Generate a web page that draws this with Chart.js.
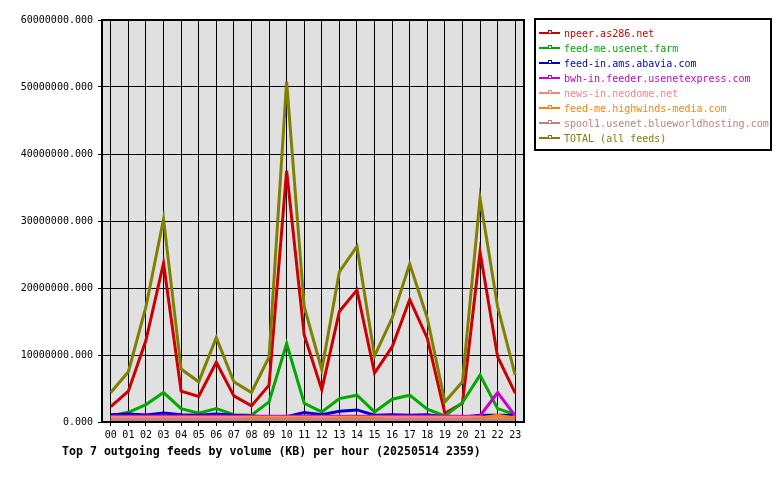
<!DOCTYPE html>
<html>
<head>
<meta charset="utf-8">
<script src="https://cdn.jsdelivr.net/npm/chart.js@4/dist/chart.umd.min.js"></script>
<style>
  html, body { margin: 0; padding: 0; background: #ffffff; }
  #wrap { position: relative; width: 780px; height: 480px; overflow: hidden; }
  #c { position: absolute; left: 0; top: 0; }
  #caption { position: absolute; left: 62px; top: 445px; font: bold 11.6px "DejaVu Sans Mono", monospace; color: #000; white-space: pre; line-height: 13px; }
  #legend { position: absolute; left: 534px; top: 18px; width: 234px; height: 129px; border: 2px solid #000; box-sizing: content-box; }
  .row { position: absolute; left: 0; height: 15px; font: 10px "DejaVu Sans Mono", monospace; white-space: pre; line-height: 15px; }
  .ln { position: absolute; left: 3px; top: 6px; width: 21px; height: 0; border-top: 2px solid; }
  .mk { position: absolute; left: 12px; top: 4px; width: 2px; height: 2px; border: 1px solid; background: #fff; }
  .tx { position: absolute; left: 28px; top: 0; }
</style>
</head>
<body>
<div id="wrap">
  <canvas id="c" width="780" height="480"></canvas>
  <div id="legend"></div>
  <div id="caption"></div>
</div>
<script>
// ---- data (KB per hour) ----
const hours = ['00','01','02','03','04','05','06','07','08','09','10','11','12','13','14','15','16','17','18','19','20','21','22','23'];
const feedNames = ['npeer.as286.net','feed-me.usenet.farm','feed-in.ams.abavia.com','bwh-in.feeder.usenetexpress.com','news-in.neodome.net','feed-me.highwinds-media.com','spool1.usenet.blueworldhosting.com','TOTAL (all feeds)'];
const feedColors = ['#cc0000','#00aa00','#0000cc','#cc00cc','#ff8080','#ff8000','#c08080','#808000'];

const npeer     = [2300000,4600000,12200000,23700000,4600000,3800000,8900000,3900000,2400000,5500000,37500000,13000000,4800000,16500000,19700000,7300000,11200000,18300000,12500000,1300000,2800000,25400000,9750000,4300000];
const usenetFarm= [900000,1450000,2600000,4400000,2000000,1300000,2000000,1100000,1000000,3000000,11700000,2800000,1500000,3500000,4000000,1500000,3400000,4000000,1900000,900000,2900000,7000000,2000000,1100000];
const abavia    = [1100000,1200000,1050000,1350000,1100000,1000000,1200000,1000000,900000,700000,800000,1400000,1100000,1600000,1800000,1000000,1100000,1000000,1100000,800000,700000,1000000,1000000,1000000];
const bwh       = [850000,850000,850000,850000,850000,850000,850000,850000,850000,850000,850000,850000,850000,850000,850000,850000,850000,850000,850000,850000,850000,900000,4400000,900000];
const neodome   = [700000,700000,700000,700000,700000,700000,700000,700000,700000,700000,700000,700000,700000,700000,700000,700000,700000,700000,700000,700000,700000,700000,700000,700000];
const highwinds = [300000,250000,250000,250000,250000,250000,250000,250000,550000,550000,500000,550000,300000,550000,550000,550000,300000,250000,250000,250000,300000,550000,1000000,550000];
const spool1    = [350000,350000,350000,350000,350000,350000,350000,350000,350000,350000,350000,350000,350000,350000,350000,350000,350000,350000,350000,350000,350000,350000,350000,350000];
const total     = [4400000,7500000,17200000,30300000,7900000,6000000,12600000,6000000,4400000,9700000,50800000,17200000,7800000,22400000,26200000,9850000,15500000,23600000,15500000,3000000,6000000,33400000,17200000,7000000];

const yTicks = [0,10000000,20000000,30000000,40000000,50000000,60000000];
const captionText = 'Top 7 outgoing feeds by volume (KB) per hour (20250514 2359)';

const series = [npeer, usenetFarm, abavia, bwh, neodome, highwinds, spool1, total];

// ---- legend (HTML) ----
const legend = document.getElementById('legend');
feedNames.forEach((name, i) => {
  const row = document.createElement('div');
  row.className = 'row';
  row.style.top = (6 + i * 15) + 'px';
  row.style.color = feedColors[i];
  row.innerHTML = '<div class="ln" style="border-color:' + feedColors[i] + '"></div>' +
                  '<div class="mk" style="border-color:' + feedColors[i] + '"></div>' +
                  '<div class="tx"></div>';
  row.querySelector('.tx').textContent = name;
  legend.appendChild(row);
});
document.getElementById('caption').textContent = captionText;

// ---- chart ----
const areaPlugin = {
  id: 'areaPlugin',
  beforeDraw(chart) {
    const a = chart.chartArea, ctx = chart.ctx;
    ctx.save();
    ctx.fillStyle = '#e0e0e0';
    ctx.fillRect(a.left, a.top, a.right - a.left, a.bottom - a.top);
    ctx.restore();
  },
  afterDraw(chart) {
    const a = chart.chartArea, ctx = chart.ctx;
    ctx.save();
    ctx.strokeStyle = '#000';
    ctx.lineWidth = 2;
    ctx.strokeRect(a.left, a.top, a.right - a.left, a.bottom - a.top);
    ctx.restore();
  }
};

const tickFont = { family: '"DejaVu Sans Mono", monospace', size: 10 };

new Chart(document.getElementById('c'), {
  type: 'line',
  data: {
    labels: hours,
    datasets: series.map((d, i) => ({
      label: feedNames[i],
      data: d,
      borderColor: feedColors[i],
      backgroundColor: feedColors[i],
      borderWidth: 3,
      pointRadius: 0,
      tension: 0,
      fill: false,
      order: series.length - i
    }))
  },
  options: {
    responsive: false,
    animation: false,
    events: [],
    layout: { padding: { left: 0, right: 256, top: 20, bottom: 0 } },
    plugins: { legend: { display: false }, tooltip: { enabled: false }, title: { display: false } },
    scales: {
      x: {
        type: 'category',
        offset: true,
        grid: { offset: false, color: '#000', lineWidth: 1, tickLength: 4, drawTicks: true },
        border: { display: true, color: '#000', width: 2 },
        ticks: { font: tickFont, color: '#000', padding: 3, maxRotation: 0, autoSkip: false },
        afterFit(scale) { scale.height = 58; }
      },
      y: {
        min: 0,
        max: 60000000,
        afterBuildTicks(scale) { scale.ticks = yTicks.map(v => ({ value: v })); },
        grid: { color: '#000', lineWidth: 1, tickLength: 4, drawTicks: true },
        border: { display: true, color: '#000', width: 2 },
        ticks: { font: tickFont, color: '#000', padding: 5, callback: v => Number(v).toFixed(3) },
        afterFit(scale) { scale.width = 102; }
      }
    }
  },
  plugins: [areaPlugin]
});
</script>
</body>
</html>
